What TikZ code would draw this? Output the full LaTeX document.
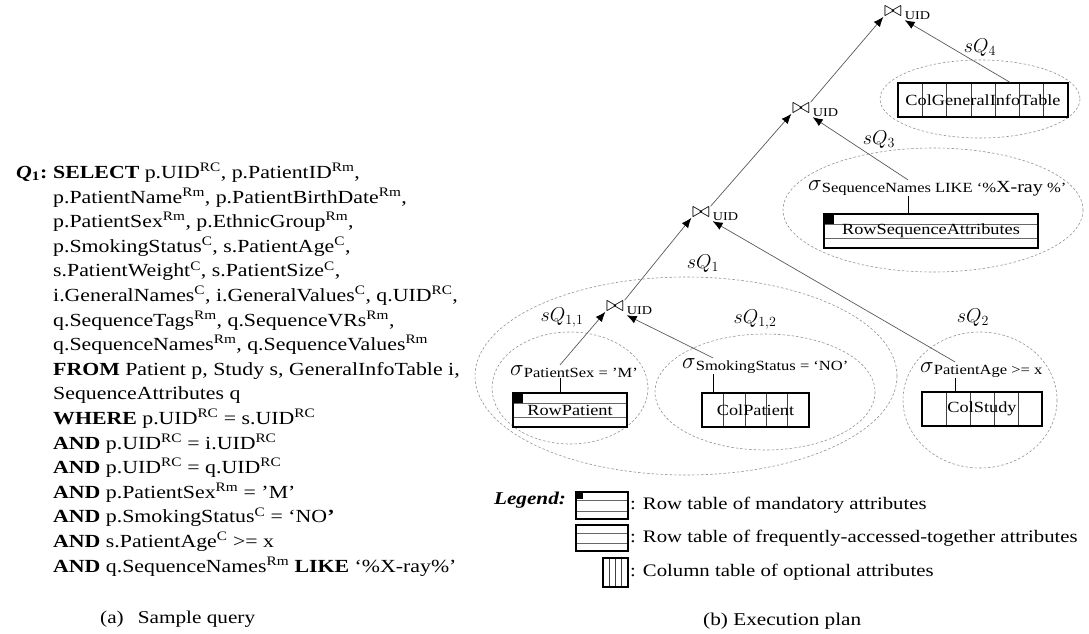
\RequirePackage{fix-cm}
\documentclass[tikz,border=0pt]{standalone}
\usepackage{fontspec}
\setmainfont{Liberation Serif}[FakeStretch=1.18]
\usetikzlibrary{arrows.meta,calc}

\newcommand\ssup[1]{\textsuperscript{#1}}
\newcommand\sel[1]{{\fontsize{23}{23}\selectfont$\sigma$}\raisebox{-2.5pt}{\fontsize{14}{14}\selectfont #1}}
\newcommand\rowlines{%
  \draw[line width=0.6pt, black!60]
    ($(path picture bounding box.north west)!0.31!(path picture bounding box.south west)$) --
    ($(path picture bounding box.north east)!0.31!(path picture bounding box.south east)$)
    ($(path picture bounding box.north west)!0.72!(path picture bounding box.south west)$) --
    ($(path picture bounding box.north east)!0.72!(path picture bounding box.south east)$);}

\begin{document}
\begin{tikzpicture}[x=1pt, y=-1pt,
  every node/.style={inner sep=0pt},
  joinop/.style={font=\fontsize{22}{22}\selectfont, inner sep=0.5pt},
  uid/.style={font=\fontsize{12}{12}\selectfont, anchor=west},
  sqlbl/.style={font=\fontsize{20}{20}\selectfont},
  grp/.style={draw=gray!85, line width=0.6pt, dash pattern=on 2.5pt off 2pt},
  flow/.style={draw=black!65, line width=0.7pt, -{Latex[length=10pt,width=8pt,black]}},
  link/.style={draw, line width=0.9pt},
  tab/.style={draw, line width=1.3pt, minimum height=34pt, font=\fontsize{15.5}{15.5}\selectfont},
  rowtab/.style={tab, path picture={\rowlines}},
  mandtab/.style={tab, path picture={\rowlines
      \fill (path picture bounding box.north west) rectangle ++(#1,-#1);}},
  coltab/.style={tab, path picture={
      \foreach \k in {1,...,#1}{
        \pgfmathsetmacro\ff{\k/(#1+1)}
        \draw[line width=0.6pt, black!75]
          ($(path picture bounding box.north west)!\ff!(path picture bounding box.north east)$) --
          ($(path picture bounding box.south west)!\ff!(path picture bounding box.south east)$);}}},
  legtxt/.style={font=\fontsize{17.6}{17.6}\selectfont, anchor=west}
]
\useasboundingbox (0,0) rectangle (1089,634);

% (a) the query
\node[anchor=base west, font=\fontsize{18.5}{18.5}\selectfont\bfseries] (qlbl) at (16,178)
  {\textit{Q}\textsubscript{1}:};
\node[anchor=base west, align=left, font=\fontsize{18.5}{24.6}\selectfont] (qry) at (53,572)
  {\textbf{SELECT} p.UID\ssup{RC}, p.PatientID\ssup{Rm},\\
   p.PatientName\ssup{Rm}, p.PatientBirthDate\ssup{Rm},\\
   p.PatientSex\ssup{Rm}, p.EthnicGroup\ssup{Rm},\\
   p.SmokingStatus\ssup{C}, s.PatientAge\ssup{C},\\
   s.PatientWeight\ssup{C}, s.PatientSize\ssup{C},\\
   i.GeneralNames\ssup{C}, i.GeneralValues\ssup{C}, q.UID\ssup{RC},\\
   q.SequenceTags\ssup{Rm}, q.SequenceVRs\ssup{Rm},\\
   q.SequenceNames\ssup{Rm}, q.SequenceValues\ssup{Rm}\\
   \textbf{FROM} Patient p, Study s, GeneralInfoTable i,\\
   SequenceAttributes q\\
   \textbf{WHERE} p.UID\ssup{RC} = s.UID\ssup{RC}\\
   \textbf{AND} p.UID\ssup{RC} = i.UID\ssup{RC}\\
   \textbf{AND} p.UID\ssup{RC} = q.UID\ssup{RC}\\
   \textbf{AND} p.PatientSex\ssup{Rm} = ’M’\\
   \textbf{AND} p.SmokingStatus\ssup{C} = ‘NO\textbf{’}\\
   \textbf{AND} s.PatientAge\ssup{C} >= x\\
   \textbf{AND} q.SequenceNames\ssup{Rm} \textbf{LIKE} ‘\%X-ray\%’};
\node[anchor=west, font=\fontsize{18}{18}\selectfont] (capa) at (100,619)
  {(a)\hspace{14pt}Sample query};

% (b) the plan: groups
\draw[grp] (980,99)  ellipse [x radius=100, y radius=39];
\draw[grp] (933,210) ellipse [x radius=150, y radius=62];
\draw[grp] (686,376) ellipse [x radius=211, y radius=99];
\draw[grp] (570,388) ellipse [x radius=78,  y radius=56];
\draw[grp] (765,392) ellipse [x radius=110, y radius=58];
\draw[grp] (980,400) ellipse [x radius=77,  y radius=68];

\node[sqlbl] (lQ4)  at (980,48)  {$sQ_4$};
\node[sqlbl] (lQ3)  at (879,140) {$sQ_3$};
\node[sqlbl] (lQ1)  at (703,264) {$sQ_1$};
\node[sqlbl] (lQ11) at (562,318) {$sQ_{1,1}$};
\node[sqlbl] (lQ12) at (755,320) {$sQ_{1,2}$};
\node[sqlbl] (lQ2)  at (973,318) {$sQ_2$};

% joins
\node[joinop] (jA) at (893,11)  {$\bowtie$};
\node[joinop] (jB) at (801,108) {$\bowtie$};
\node[joinop] (jC) at (701,212) {$\bowtie$};
\node[joinop] (jD) at (615,306) {$\bowtie$};
\foreach \j in {jA,jB,jC,jD}
  \node[uid] (\j uid) at ([xshift=2pt,yshift=-5pt]\j.east) {UID};

% tables
\node[coltab=6, minimum width=170pt] (tGen)    at (983,100)   {ColGeneralInfoTable};
\node[mandtab=10pt, minimum width=214pt] (tSeq) at (931,231)  {RowSequenceAttributes};
\node[mandtab=10pt, minimum width=114pt] (tPatRow) at (570,410) {RowPatient};
\node[coltab=4, minimum width=107pt] (tPatCol) at (755.5,410) {ColPatient};
\node[coltab=4, minimum width=120pt] (tStudy)  at (982,409)   {ColStudy};

% selections
\node[anchor=base west] (sSeq)   at (808,190) {\sel{SequenceNames LIKE ‘\%{\fontsize{17}{17}\selectfont X-ray} \%’}};
\node[anchor=base west] (sSex)   at (510,375) {\sel{PatientSex = ’M’}};
\node[anchor=base west] (sSmoke) at (682,368) {\sel{SmokingStatus = ‘NO’}};
\node[anchor=base west] (sAge)   at (920,372) {\sel{PatientAge >= x}};

\coordinate (kGen)   at (1010,0);
\coordinate (kSeq)   at (908,0);
\coordinate (kSex)   at (560,0);
\coordinate (kSmoke) at (713,0);
\coordinate (kAge)   at (955,0);

\draw[link] (tSeq.north -| kSeq)     -- (sSeq.south -| kSeq);
\draw[link] (tPatRow.north -| kSex)  -- (sSex.south -| kSex);
\draw[link] (tPatCol.north -| kSmoke) -- (sSmoke.south -| kSmoke);
\draw[link] (tStudy.north -| kAge)   -- (sAge.south -| kAge);

% data flow
\draw[flow] (jB.north east) -- (jA.south west);
\draw[flow] (tGen.north -| kGen) -- (jAuid.south west);
\draw[flow] (jC.north east) -- (jB.south west);
\draw[flow] (sSeq.north -| kSeq) -- (jBuid.south west);
\draw[flow] (jD.north east) -- (jC.south west);
\draw[flow] (sAge.north -| kAge) -- (jCuid.south west);
\draw[flow] (sSex.north -| kSex) -- (jD.south west);
\draw[flow] (sSmoke.north -| kSmoke) -- (jDuid.south west);

% legend
\node[font=\fontsize{18}{18}\selectfont\bfseries\itshape] (lgd) at (530,500) {Legend:};
\node[mandtab=7pt, minimum width=52pt, minimum height=27pt, line width=1.1pt] (lgA) at (602,505.5) {};
\node[rowtab, minimum width=52pt, minimum height=26pt, line width=1.1pt] (lgB) at (602,538) {};
\node[coltab=3, minimum width=25pt, minimum height=29pt, line width=1.1pt] (lgC) at (615.5,572.5) {};
\node[legtxt] (lgAt) at (630,505) {: Row table of mandatory attributes};
\node[legtxt] (lgBt) at (630,538) {: Row table of frequently-accessed-together attributes};
\node[legtxt] (lgCt) at (630,572) {: Column table of optional attributes};

\node[anchor=west, font=\fontsize{18}{18}\selectfont] (capb) at (703,621) {(b) Execution plan};
\end{tikzpicture}
\end{document}
